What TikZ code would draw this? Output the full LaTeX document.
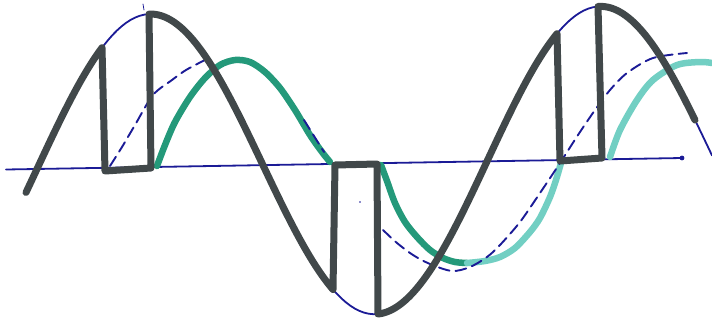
\documentclass[tikz,border=0pt]{standalone}
\usetikzlibrary{calc}

\definecolor{inkblue}{HTML}{1B1B96}
\definecolor{inkgrey}{HTML}{41484A}
\definecolor{inkteal}{HTML}{24997A}
\definecolor{inkcyan}{HTML}{72CFC3}

\begin{document}
\begin{tikzpicture}[ x=1pt, y=-1pt, line cap=round, line join=round,
  declare function={axisy(\x)=168.5-0.017*(\x-5);
                    wave(\x)=axisy(\x)-152*sin(0.8*(\x-37.5));},
  thinline/.style={inkblue, line width=1.8pt},
  dashline/.style={inkblue, line width=1.9pt, dash pattern=on 11pt off 6pt},
  thickline/.style={inkgrey, line width=7pt},
  greenline/.style={line width=6.5pt} ]

\useasboundingbox (0,0) rectangle (712,322);

% axis
\coordinate (axisL) at (6,169.5);
\coordinate (axisR) at (682,158);
\draw[thinline] (axisL) -- (axisR);
\fill[inkblue] (axisR) circle (2.4pt);

% reference sine
\draw[thinline] plot[domain=30:712, samples=150] (\x,{wave(\x)});

% delayed wave (green)
\draw[greenline, inkteal] plot[smooth] coordinates {(157,166) (165,145) (175,122) (190,97)
  (205,78) (220,65) (235,60) (250,62) (265,72) (280,88) (295,110) (310,135) (322,152) (330,162)};
\draw[greenline, inkteal] plot[smooth] coordinates {(381,165) (387,181) (395,203) (405,222)
  (417,237) (430,250) (443,258) (455,262) (467,263)};
\draw[greenline, inkcyan] plot[smooth] coordinates {(467,263) (485,261) (500,257) (515,248)
  (530,232) (540,218) (550,197) (556,180) (561,163)};
\draw[greenline, inkcyan] plot[smooth] coordinates {(610,157) (620,130) (637,100) (653,80)
  (677,65) (700,62) (712,63)};

% delayed sine (dashed)
\draw[dashline] plot[smooth] coordinates {(110,166) (122,147) (135,125) (153,95)
  (172,80) (186,70) (205,60)};
\draw[dashline] (304,120) -- (324,152);
\draw[dashline] plot[smooth] coordinates {(383,230) (397,243) (413,255) (430,264) (452,271)
  (470,267) (487,257) (500,245) (520,222) (540,193) (560,163) (578,135) (595,110)
  (610,90) (627,73) (653,58) (687,53)};

% stray marks
\draw[inkblue, line width=0.8pt] (143,4) -- (144,10);
\fill[inkblue] (360,202) circle (0.8pt);

% chopped wave
\draw[thickline] plot[domain=26:102, samples=40] (\x,{wave(\x)})
  -- (105,171) -- (151,168) -- (149,{wave(149)})
  -- plot[domain=149:333, samples=80] (\x,{wave(\x)})
  -- (335,165) -- (377,164) -- (378,{wave(378)})
  -- plot[domain=378:557, samples=80] (\x,{wave(\x)})
  -- (560,161) -- (602,158) -- (598,{wave(598)})
  -- plot[domain=598:695, samples=40] (\x,{wave(\x)});

\end{tikzpicture}
\end{document}
